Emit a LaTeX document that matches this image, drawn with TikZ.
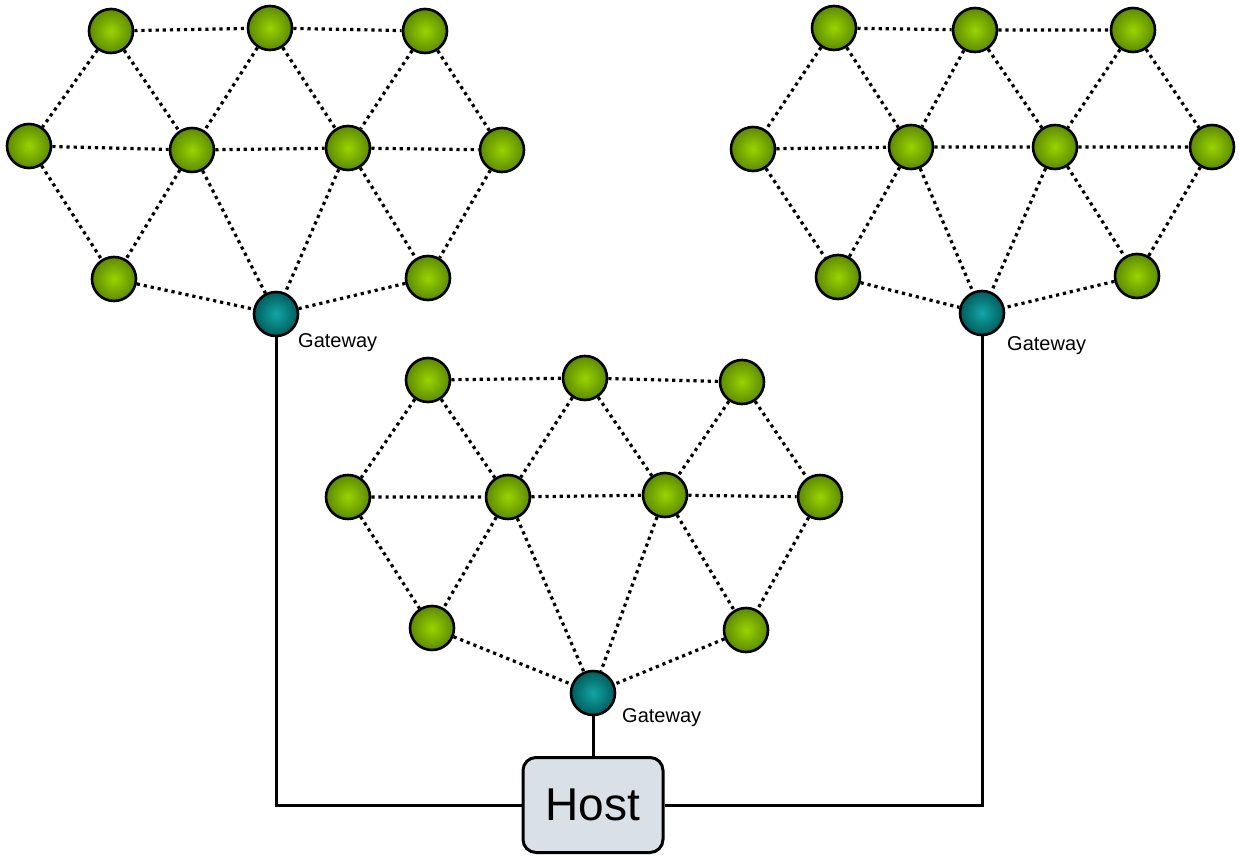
\documentclass[tikz,border=0pt]{standalone}
\usepackage{fontspec}
\setmainfont{Liberation Sans}
\usetikzlibrary{shadings}
\definecolor{gin}{HTML}{9AD400}
\definecolor{gout}{HTML}{5C8A00}
\definecolor{tin}{HTML}{12A6A6}
\definecolor{tout}{HTML}{005C5C}
\definecolor{hostfill}{HTML}{D9E0E6}
\tikzset{
  mnode/.style={circle, draw=black, line width=2.6pt, minimum size=44pt, inner sep=0pt, inner color=gin, outer color=gout},
  gwnode/.style={circle, draw=black, line width=2.6pt, minimum size=44pt, inner sep=0pt, inner color=tin, outer color=tout},
  link/.style={line width=3.2pt, dash pattern=on 3.2pt off 3.9pt},
  wire/.style={line width=3pt},
  gwlabel/.style={anchor=base west, inner sep=0pt, font=\fontsize{20}{23}\selectfont},
  hostbox/.style={draw=black, line width=3pt, rounded corners=13pt, fill=hostfill, minimum width=140pt, minimum height=95pt, font=\fontsize{46}{50}\selectfont}
}
\newcommand\meshlinks[1]{%
  \draw[link] (#1t1) -- (#1t2) (#1t2) -- (#1t3)
    (#1t1) -- (#1m1) (#1t1) -- (#1m2) (#1t2) -- (#1m2) (#1t2) -- (#1m3) (#1t3) -- (#1m3) (#1t3) -- (#1m4)
    (#1m1) -- (#1m2) (#1m2) -- (#1m3) (#1m3) -- (#1m4)
    (#1m1) -- (#1b1) (#1m2) -- (#1b1) (#1m2) -- (#1g) (#1m3) -- (#1g) (#1m3) -- (#1b2) (#1m4) -- (#1b2)
    (#1b1) -- (#1g) (#1b2) -- (#1g);}
\begin{document}
\begin{tikzpicture}[x=1pt,y=-1pt]
\useasboundingbox (0,0) rectangle (1239,856);
% cluster A (top left)
\node[mnode] (At1) at (111,31) {};
\node[mnode] (At2) at (270,28) {};
\node[mnode] (At3) at (425,31) {};
\node[mnode] (Am1) at (29,146) {};
\node[mnode] (Am2) at (192,150) {};
\node[mnode] (Am3) at (348,148) {};
\node[mnode] (Am4) at (502,150) {};
\node[mnode] (Ab1) at (114,279) {};
\node[mnode] (Ab2) at (428,278) {};
\node[gwnode] (Ag) at (276,314) {};
\meshlinks{A}
% cluster B (top right)
\node[mnode] (Bt1) at (834,28) {};
\node[mnode] (Bt2) at (975,30) {};
\node[mnode] (Bt3) at (1133,30) {};
\node[mnode] (Bm1) at (753,149) {};
\node[mnode] (Bm2) at (911,147) {};
\node[mnode] (Bm3) at (1055,147) {};
\node[mnode] (Bm4) at (1212,147) {};
\node[mnode] (Bb1) at (838,277) {};
\node[mnode] (Bb2) at (1137,276) {};
\node[gwnode] (Bg) at (982,313) {};
\meshlinks{B}
% cluster C (bottom)
\node[mnode] (Ct1) at (428,380) {};
\node[mnode] (Ct2) at (585,378) {};
\node[mnode] (Ct3) at (742,382) {};
\node[mnode] (Cm1) at (348,497) {};
\node[mnode] (Cm2) at (508,497) {};
\node[mnode] (Cm3) at (665,495) {};
\node[mnode] (Cm4) at (820,497) {};
\node[mnode] (Cb1) at (432,628) {};
\node[mnode] (Cb2) at (746,630) {};
\node[gwnode] (Cg) at (593,693) {};
\meshlinks{C}
% labels
\node[gwlabel] (LA) at (298,347) {Gateway};
\node[gwlabel] (LB) at (1007,350) {Gateway};
\node[gwlabel] (LC) at (622,722) {Gateway};
% host
\node[hostbox] (host) at (593,805) {Host};
\draw[wire] (Ag) |- (host);
\draw[wire] (Bg) |- (host);
\draw[wire] (Cg) -- (host);
\end{tikzpicture}
\end{document}
